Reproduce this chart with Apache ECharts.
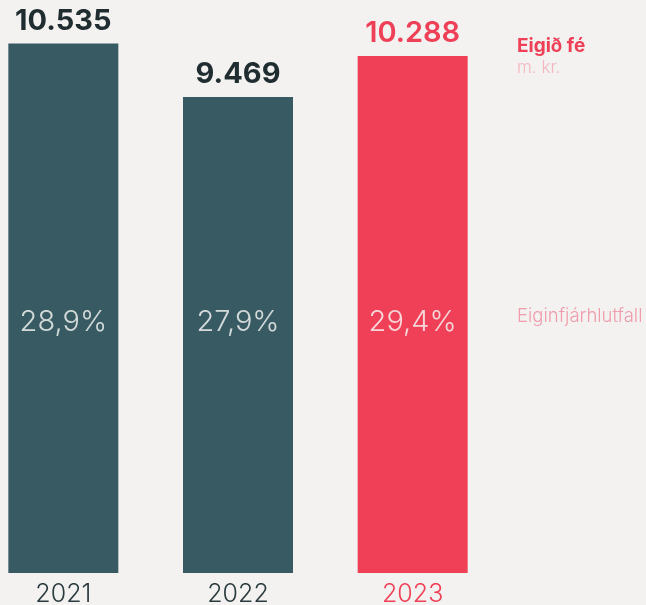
<!DOCTYPE html>
<html>
<head>
<meta charset="utf-8">
<script src="https://cdn.jsdelivr.net/npm/echarts@6/dist/echarts.min.js"></script>
<style>
  html, body { margin: 0; padding: 0; background: #f3f2f0; }
  #chart { width: 646px; height: 605px; }
</style>
</head>
<body>
<div id="chart"></div>
<script>
// Eigið fé (m. kr.) and eiginfjárhlutfall by year
const years = ['2021', '2022', '2023'];
const equity = [10535, 9469, 10288];
const equityLabels = ['10.535', '9.469', '10.288'];
const ratioLabels = ['28,9%', '27,9%', '29,4%'];

const DARK = '#385a62';
const RED = '#ef4057';
const TEXT_DARK = '#1f2c30';
const FONT = 'Inter, "Open Sans", sans-serif';

// bar colour per year: current year highlighted
const isCurrent = (i) => i === years.length - 1;
const barColor = (i) => (isCurrent(i) ? RED : DARK);
const valueColor = (i) => (isCurrent(i) ? RED : TEXT_DARK);

const Y_MAX = 11400;
const RATIO_ROW = 4985; // height on the value axis where the ratio labels sit

const chart = echarts.init(document.getElementById('chart'), null, { renderer: 'canvas' });

chart.setOption({
  backgroundColor: '#f3f2f0',
  animation: false,
  grid: {
    left: -24, width: 524, top: 0, bottom: 32,
    containLabel: false,
    outerBoundsMode: 'none'
  },
  xAxis: {
    type: 'category',
    data: years.map((y, i) => ({
      value: y,
      textStyle: { color: isCurrent(i) ? RED : '#2a3a3e' }
    })),
    axisLine: { show: false },
    axisTick: { show: false },
    axisLabel: {
      margin: 9,
      fontFamily: FONT,
      fontWeight: 300,
      fontSize: 25
    }
  },
  yAxis: {
    type: 'value',
    min: 0,
    max: Y_MAX,
    show: false
  },
  series: [
    {
      type: 'bar',
      barWidth: 110,
      data: equity.map((v, i) => ({
        value: v,
        itemStyle: { color: barColor(i) },
        label: { color: valueColor(i), fontWeight: isCurrent(i) ? 600 : 700 }
      })),
      label: {
        show: true,
        position: 'top',
        distance: 8,
        fontFamily: FONT,
        fontSize: 29,
        formatter: (p) => equityLabels[p.dataIndex]
      }
    },
    {
      type: 'scatter',
      symbolSize: 0,
      data: years.map(() => RATIO_ROW),
      label: {
        show: true,
        position: 'inside',
        fontFamily: FONT,
        fontWeight: 300,
        fontSize: 29,
        color: '#fafaf8',
        formatter: (p) => ratioLabels[p.dataIndex]
      },
      z: 5
    }
  ],
  graphic: [
    {
      type: 'text',
      left: 517,
      top: 37,
      style: { text: 'Eigið fé', font: '700 19px ' + FONT, fill: RED }
    },
    {
      type: 'text',
      left: 517,
      top: 59,
      style: { text: 'm. kr.', font: '300 17px ' + FONT, fill: '#f3b6c0' }
    },
    {
      type: 'text',
      left: 517,
      top: 307,
      style: { text: 'Eiginfjárhlutfall', font: '300 18.5px ' + FONT, fill: '#f19cab' }
    }
  ]
});
</script>
</body>
</html>
